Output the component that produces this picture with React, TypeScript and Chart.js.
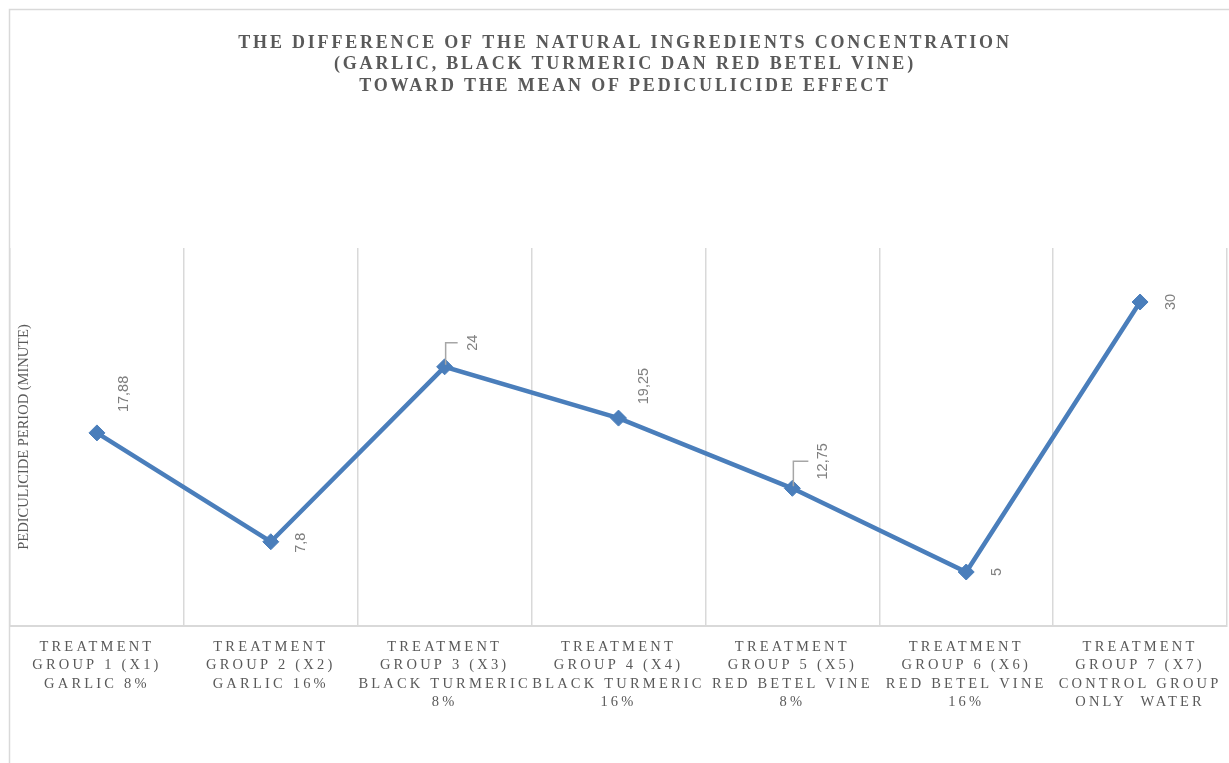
import React, { useEffect, useRef } from 'react';
import { Chart, registerables } from 'chart.js';

Chart.register(...registerables);

// ---- data ----
const titleLines = [
  'THE DIFFERENCE OF THE NATURAL INGREDIENTS CONCENTRATION',
  '(GARLIC, BLACK TURMERIC DAN RED BETEL VINE)',
  'TOWARD THE MEAN OF PEDICULICIDE EFFECT',
];
const categories = [
  ['TREATMENT', 'GROUP 1 (X1)', 'GARLIC 8%'],
  ['TREATMENT', 'GROUP 2 (X2)', 'GARLIC 16%'],
  ['TREATMENT', 'GROUP 3 (X3)', 'BLACK TURMERIC', '8%'],
  ['TREATMENT', 'GROUP 4 (X4)', 'BLACK TURMERIC', '16%'],
  ['TREATMENT', 'GROUP 5 (X5)', 'RED BETEL VINE', '8%'],
  ['TREATMENT', 'GROUP 6 (X6)', 'RED BETEL VINE', '16%'],
  ['TREATMENT', 'GROUP 7 (X7)', 'CONTROL GROUP', 'ONLY  WATER'],
];
const values = [17.88, 7.8, 24, 19.25, 12.75, 5, 30];
const valueLabels = ['17,88', '7,8', '24', '19,25', '12,75', '5', '30'];
const yAxisTitle = 'PEDICULICIDE PERIOD (MINUTE)';
const yMin = 0;
const yMax = 35;

// label placement relative to each point (dx, dy, leader line)
const labelPlacement: [number, number, boolean][] = [
  [27, -39, false],
  [30, 1, false],
  [28, -24, true],
  [25, -32, false],
  [31, -27, true],
  [31, 0, false],
  [31, 0, false],
];

const GRID = '#d9d9d9';
const TEXT = '#595959';

const overlayPlugin = {
  id: 'overlay',
  beforeDraw(chart: any) {
    const ctx = chart.ctx;
    ctx.save();
    ctx.strokeStyle = GRID;
    ctx.lineWidth = 1.5;
    ctx.beginPath();
    ctx.moveTo(9.5, chart.height);
    ctx.lineTo(9.5, 9.5);
    ctx.lineTo(chart.width, 9.5);
    ctx.stroke();
    ctx.restore();
    ctx.letterSpacing = '3.2px';
  },
  beforeDatasetsDraw(chart: any) {
    chart.ctx.letterSpacing = '0px';
  },
  afterDatasetsDraw(chart: any) {
    const ctx = chart.ctx;
    const meta = chart.getDatasetMeta(0);
    ctx.save();
    ctx.letterSpacing = '0px';
    meta.data.forEach((pt: any, i: number) => {
      const [dx, dy, leader] = labelPlacement[i];
      const lx = pt.x + dx;
      const ly = pt.y + dy;
      if (leader) {
        ctx.strokeStyle = '#a6a6a6';
        ctx.lineWidth = 1.5;
        ctx.beginPath();
        ctx.moveTo(pt.x + 1, pt.y - 2);
        ctx.lineTo(pt.x + 1, ly);
        ctx.lineTo(lx - 15, ly);
        ctx.stroke();
      }
      ctx.save();
      ctx.translate(lx, ly);
      ctx.rotate(-Math.PI / 2);
      ctx.font = '14.5px "Liberation Sans"';
      ctx.fillStyle = '#7f7f7f';
      ctx.textAlign = 'center';
      ctx.textBaseline = 'middle';
      ctx.fillText(valueLabels[i], 0, 0);
      ctx.restore();
    });
    ctx.restore();
  },
  afterDraw(chart: any) {
    const ctx = chart.ctx;
    const area = chart.chartArea;
    ctx.save();
    ctx.fillStyle = TEXT;
    ctx.textAlign = 'center';
    ctx.textBaseline = 'middle';
    ctx.letterSpacing = '2.8px';
    ctx.font = 'bold 18px "Liberation Serif"';
    titleLines.forEach((t, i) => ctx.fillText(t, 625, 43 + i * 21.5));
    ctx.letterSpacing = '0px';
    ctx.font = '14.5px "Liberation Serif"';
    ctx.translate(24, (area.top + area.bottom) / 2);
    ctx.rotate(-Math.PI / 2);
    ctx.fillText(yAxisTitle, 0, 0);
    ctx.restore();
  },
};

export default function App() {
  const ref = useRef<HTMLCanvasElement>(null);
  useEffect(() => {
    if (!ref.current) return;
    const chart = new Chart(ref.current, {
      type: 'line',
      data: {
        labels: categories,
        datasets: [
          {
            data: values,
            borderColor: '#4a7ebb',
            backgroundColor: '#4a7ebb',
            borderWidth: 4.5,
            pointStyle: 'rectRot',
            pointRadius: 8,
            pointBackgroundColor: '#4a7ebb',
            pointBorderColor: '#4a7ebb',
            pointBorderWidth: 1,
            tension: 0,
            clip: false,
          },
        ],
      },
      options: {
        responsive: false,
        animation: false,
        layout: { autoPadding: false, padding: { left: 10, right: 2, top: 248, bottom: 0 } },
        plugins: {
          legend: { display: false },
          title: { display: false },
          tooltip: { enabled: false },
        },
        scales: {
          x: {
            offset: true,
            grid: { offset: true, color: GRID, lineWidth: 1.5, drawTicks: false },
            border: { display: true, color: GRID, width: 2 },
            ticks: {
              autoSkip: false,
              maxRotation: 0,
              minRotation: 0,
              padding: 12,
              color: TEXT,
              font: { family: '"Liberation Serif"', size: 14.5, lineHeight: 1.27 },
            },
            afterFit(scale: any) {
              scale.height = 137;
              scale.paddingLeft = 0;
              scale.paddingRight = 0;
            },
          },
          y: {
            display: false,
            min: yMin,
            max: yMax,
          },
        },
      },
      plugins: [overlayPlugin],
    });
    return () => chart.destroy();
  }, []);
  return (
    <div style={{ position: 'absolute', left: 0, top: 0, width: 1229, height: 763 }}>
      <canvas ref={ref} width={1229} height={763} style={{ display: 'block' }} />
    </div>
  );
}
